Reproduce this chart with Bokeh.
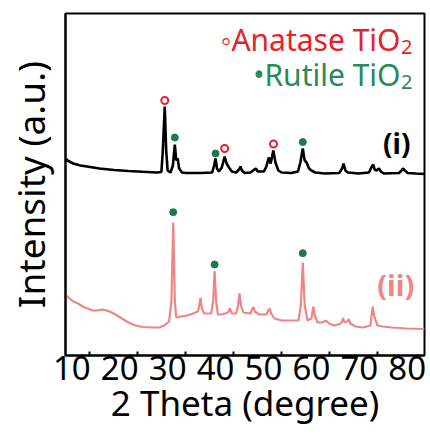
from bokeh.plotting import figure
from bokeh.models import LinearAxis, FixedTicker, Range1d, Label
from bokeh.embed import file_html
from bokeh.resources import INLINE

# ---- data (2 theta in degrees, intensity in arbitrary units) ----
xrd_i_x = [5.0, 5.3, 6.5, 8, 10, 12, 15, 18, 21, 24, 24.9, 25.2, 25.6, 25.9, 26.2, 26.8, 27.3, 27.7, 28.0, 28.3,
           28.6, 29.2, 30, 33, 35.5, 35.9, 36.2, 36.5, 36.9, 37.5, 38.1, 38.5, 39, 39.6, 40.5, 41.1, 41.4, 41.7,
           42.3, 43.5, 44.3, 44.6, 45, 46.3, 46.8, 47.3, 47.7, 48.25, 48.7, 49.3, 50, 52, 53.4, 53.9, 54.4, 54.8,
           55.2, 55.7, 56.2, 57, 59, 62, 62.6, 62.9, 63.3, 63.8, 66, 68.2, 68.7, 69.1, 69.4, 69.8, 70.3, 70.7,
           71.3, 74.5, 75, 75.3, 75.7, 76.3, 78, 79.8]
xrd_i_y = [197, 195, 192, 190, 188.5, 187, 185.5, 184.5, 183.7, 183, 183.5, 205, 249, 205, 185, 183, 190, 211, 195, 197,
           187, 183, 182.5, 182.5, 183, 190, 197, 187, 184, 188, 199, 192, 188, 184, 183, 186, 189, 185,
           182.5, 183, 186, 187, 184, 184, 189, 198, 192, 205, 193, 185, 183, 182.5, 184, 193, 207, 195,
           193, 187, 185, 183, 182, 182.5, 187, 192, 185, 183, 182, 183, 188, 191, 186, 185, 187, 184,
           182, 182.5, 185, 187, 185, 182.5, 182, 181.5]

xrd_ii_x = [4.9, 5.5, 6.5, 7.5, 8.5, 9.5, 10.5, 11.5, 12.5, 13.5, 14.5, 15.5, 16.5, 17.5, 18.5, 19.5, 21, 23, 24.5,
            25.5, 26.5, 27.0, 27.37, 27.7, 28.0, 29, 30.3, 31.5, 32.5, 32.8, 33.07, 33.35, 33.8, 35.3, 35.7, 36.0,
            36.3, 36.7, 37.5, 38.8, 39.2, 39.6, 40.5, 40.9, 41.2, 41.5, 42, 43.5, 43.9, 44.1, 44.4, 45.3, 46.8,
            47.2, 47.5, 47.8, 48.5, 50, 52, 53.5, 54.0, 54.4, 54.8, 55.4, 56.2, 56.6, 56.9, 57.5, 58.5, 59.2,
            59.9, 61, 62.4, 62.8, 63.1, 63.7, 64.0, 64.3, 65.5, 67, 68.5, 69.0, 69.3, 69.6, 70.0, 71, 73, 76, 79.8]
xrd_ii_y = [61, 58, 54, 52, 49, 47, 45, 45, 46, 45, 43, 40.5, 37.5, 34.5, 32, 30, 28.5, 28, 28,
            30, 34, 55, 133, 55, 38, 39, 40, 42, 44, 50, 57.5, 47, 42, 42, 55, 84.5,
            55, 41, 41, 43, 47, 42, 42, 50, 62, 50, 43, 42, 47, 48.5, 44, 41, 41,
            45, 47, 42, 37, 35, 35, 35, 50, 93, 50, 35, 37, 49, 40, 33, 33, 35,
            32, 30, 32, 37.5, 33, 34, 36.5, 32, 29, 28, 30, 49, 40, 35, 30, 29, 28, 27, 26.5]

anatase_x = [25.6, 38.1, 48.3]
anatase_y = [255, 207, 211.5]
rutile_i_x = [27.7, 36.2, 54.4]
rutile_i_y = [218, 202, 213.5]
rutile_ii_x = [27.37, 36.0, 54.4]
rutile_ii_y = [143.3, 91, 102.3]

tick_values = [10, 20, 30, 40, 50, 60, 70]
tick_label_text = ["10", "20", "30", "40", "50", "60", "70", "80"]
tick_label_pos = [6.2, 16.2, 26.2, 36.2, 46.2, 56.2, 66.2, 76.2]

FONT = "Noto Sans"
RED = "#e3232a"
GREEN = "#2a8a57"
DOT_GREEN = "#1e7a4a"
SALMON = "#f08585"

p = figure(width=430, height=444, output_backend="svg", toolbar_location=None,
           x_range=Range1d(4.89, 79.8), y_range=Range1d(0, 342),
           min_border_left=65, min_border_right=6, min_border_top=13, min_border_bottom=89)
p.grid.visible = False
p.outline_line_color = "black"
p.outline_line_width = 2
p.background_fill_color = "white"
p.border_fill_color = "white"

# x axis with the tick marks only
xa = p.xaxis[0]
xa.ticker = FixedTicker(ticks=tick_values)
xa.major_tick_in = 4
xa.major_tick_out = 0
xa.minor_tick_line_color = None
xa.major_tick_line_width = 2
xa.axis_line_width = 2
xa.major_label_text_font_size = "0px"
xa.major_label_text_color = None
xa.major_label_standoff = 0

# second x axis carrying the labels and title
xl = LinearAxis(ticker=FixedTicker(ticks=tick_label_pos),
                major_label_overrides={pos: t for pos, t in zip(tick_label_pos, tick_label_text)},
                axis_label="2 Theta (degree)")
xl.axis_line_color = None
xl.major_tick_line_color = None
xl.minor_tick_line_color = None
xl.major_tick_in = 0
xl.major_tick_out = 0
xl.major_label_standoff = 0
xl.major_label_text_font = FONT
xl.major_label_text_font_size = "33px"
xl.major_label_text_color = "black"
xl.axis_label_text_font = FONT
xl.axis_label_text_font_size = "35px"
xl.axis_label_text_font_style = "normal"
xl.axis_label_text_color = "black"
xl.axis_label_standoff = -4
p.add_layout(xl, "below")

ya = p.yaxis[0]
ya.axis_label = "Intensity (a.u.)"
ya.axis_label_text_font = FONT
ya.axis_label_text_font_size = "37px"
ya.axis_label_text_font_style = "normal"
ya.axis_label_text_color = "black"
ya.major_tick_line_color = None
ya.minor_tick_line_color = None
ya.major_tick_in = 0
ya.major_tick_out = 0
ya.major_label_text_font_size = "0px"
ya.major_label_text_color = None
ya.major_label_standoff = 0
ya.axis_line_width = 2
ya.axis_label_standoff = 6

p.line(xrd_ii_x, xrd_ii_y, line_color=SALMON, line_width=2.2)
p.line(xrd_i_x, xrd_i_y, line_color="black", line_width=2.6)

p.scatter(anatase_x, anatase_y, marker="circle", size=7, fill_color="white",
          line_color=RED, line_width=2)
p.scatter(rutile_i_x, rutile_i_y, marker="circle", size=7, fill_color=DOT_GREEN, line_color=DOT_GREEN)
p.scatter(rutile_ii_x, rutile_ii_y, marker="circle", size=7, fill_color=DOT_GREEN, line_color=DOT_GREEN)

# legend-like texts
p.add_layout(Label(x=74.8, y=316, text="\u25e6Anatase TiO", text_align="right", text_baseline="alphabetic",
                   text_font=FONT, text_font_size="30px", text_color=RED))
p.add_layout(Label(x=74.9, y=309, text="2", text_align="left", text_baseline="alphabetic",
                   text_font=FONT, text_font_size="20px", text_color=RED))
p.add_layout(Label(x=74.8, y=281, text="\u2022Rutile TiO", text_align="right", text_baseline="alphabetic",
                   text_font=FONT, text_font_size="30px", text_color=GREEN))
p.add_layout(Label(x=74.9, y=274, text="2", text_align="left", text_baseline="alphabetic",
                   text_font=FONT, text_font_size="20px", text_color=GREEN))

p.add_layout(Label(x=74.0, y=212.5, text="(i)", text_align="center", text_baseline="middle",
                   text_font=FONT, text_font_size="28px", text_font_style="bold", text_color="black"))
p.add_layout(Label(x=73.8, y=71.5, text="(ii)", text_align="center", text_baseline="middle",
                   text_font=FONT, text_font_size="29px", text_font_style="bold", text_color=SALMON))

open("out.html", "w").write(file_html(p, INLINE))
